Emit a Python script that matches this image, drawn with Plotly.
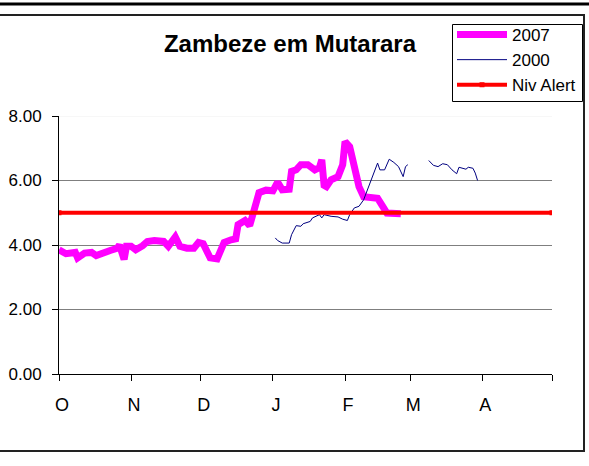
import plotly.graph_objects as go

# ---- data (day index from 1 October) ----
month_ticks = [0, 31, 61, 92, 123, 151, 182, 212]
month_labels = ["O", "N", "D", "J", "F", "M", "A", ""]

days_2007 = [0, 3, 7, 8, 11, 14, 16, 19, 22, 25, 26, 28, 29, 31, 33, 36, 38, 41, 45, 47,
             50, 52, 55, 58, 60, 62, 64, 65, 68, 69, 71, 74, 76, 77, 80, 82, 84, 86, 89, 92,
             94, 96, 99, 100, 102, 104, 107, 110, 112, 113, 114, 115, 117, 120, 122, 123,
             125, 127, 129, 131, 134, 137, 139, 141, 147]
level_2007 = [3.85, 3.73, 3.77, 3.60, 3.75, 3.77, 3.67, 3.77, 3.83, 3.90, 4.00, 3.55, 3.96,
              3.96, 3.85, 3.98, 4.11, 4.14, 4.11, 3.96, 4.25, 3.96, 3.90, 3.90, 4.08, 4.04,
              3.80, 3.60, 3.57, 3.80, 4.08, 4.16, 4.19, 4.63, 4.76, 4.60, 5.18, 5.62, 5.70,
              5.68, 5.95, 5.71, 5.73, 6.28, 6.33, 6.49, 6.49, 6.33, 6.40, 6.64, 5.85, 5.81,
              6.02, 6.12, 6.49, 7.21, 7.05, 6.43, 5.81, 5.50, 5.49, 5.45, 5.22, 4.99, 4.97]

days_2000 = [93, 94, 96, 99, 100, 102, 104, 105, 108, 109, 112, 113, 114, 117, 120, 122,
             124, 125, 127, 129, 131, 133, 135, 137, 138, 140, 142, 144, 146, 148, 149, 150,
             154,
             159, 161, 163, 165, 167, 169, 171, 172, 175, 176, 178, 179, 180]
level_2000 = [4.22, 4.14, 4.06, 4.06, 4.32, 4.60, 4.58, 4.66, 4.73, 4.84, 4.94, 4.84, 4.94,
              4.89, 4.87, 4.80, 4.76, 4.94, 5.15, 5.20, 5.40, 5.76, 6.12, 6.54, 6.33, 6.33,
              6.66, 6.56, 6.43, 6.12, 6.43, 6.49,
              None,
              6.62, 6.47, 6.43, 6.52, 6.49, 6.33, 6.21, 6.41, 6.35, 6.41, 6.38, 6.23, 6.00]

alert_days = [0, 212]
alert_level = [5.0, 5.0]

y_ticks = [0, 2, 4, 6, 8]

# ---- figure ----
W, H = 589, 466
L, R, T, B = 59, 37, 116, 92
pw, ph = W - L - R, H - T - B


def px(x):
    return (x - L) / pw


def py(y):
    return (H - B - y) / ph


FONT = "Arial, Liberation Sans, sans-serif"

fig = go.Figure()
fig.add_trace(go.Scatter(x=days_2007, y=level_2007, mode="lines", name="2007",
                         line=dict(color="#FF00FF", width=7)))
fig.add_trace(go.Scatter(x=days_2000, y=level_2000, mode="lines", name="2000",
                         connectgaps=False, line=dict(color="#000080", width=1)))
fig.add_trace(go.Scatter(x=alert_days, y=alert_level, mode="lines+markers", name="Niv Alert",
                         line=dict(color="#FF0000", width=4),
                         marker=dict(symbol="square", size=5, color="#FF0000")))

fig.update_layout(
    width=W, height=H,
    margin=dict(l=L, r=R, t=T, b=B, autoexpand=False),
    paper_bgcolor="white", plot_bgcolor="white",
    font=dict(family=FONT, color="black"),
    showlegend=True,
    title=dict(text="<b>Zambeze em Mutarara</b>", xref="container", yref="container",
               x=290 / W, y=1 - 44 / H, xanchor="center", yanchor="middle",
               font=dict(size=24, family=FONT, color="black")),
    legend=dict(x=px(452), y=py(17), xanchor="left", yanchor="top",
                bgcolor="rgba(0,0,0,0)", borderwidth=0,
                font=dict(size=17, family=FONT, color="black"),
                itemwidth=50, entrywidth=125,
                traceorder="normal"),
    xaxis=dict(range=[0, 212], tickmode="array", tickvals=month_ticks, ticktext=month_labels,
               showgrid=False, zeroline=False, showline=True, linecolor="black", linewidth=1,
               ticks="outside", ticklen=6, tickcolor="black",
               tickfont=dict(size=18, family=FONT, color="black"),
               ticklabelshift=3, ticklabelstandoff=8),
    yaxis=dict(range=[0, 8], tickmode="array", tickvals=y_ticks, tickformat=".2f",
               showgrid=True, gridcolor="#7f7f7f", gridwidth=1, zeroline=False,
               showline=True, linecolor="black", linewidth=1,
               ticks="outside", ticklen=6, tickcolor="black",
               tickfont=dict(size=17, family=FONT, color="black"),
               ticklabelstandoff=7),
    shapes=[
        dict(type="line", xref="paper", yref="y", x0=0, x1=1, y0=8, y1=8,
             line=dict(color="#efefef", width=1), layer="between"),
        dict(type="rect", xref="paper", yref="paper", x0=px(-1), x1=px(584), y0=py(451), y1=py(15),
             line=dict(color="#222222", width=2), fillcolor="rgba(0,0,0,0)", layer="above"),
        dict(type="line", xref="paper", yref="paper", x0=px(0), x1=px(589), y0=py(4), y1=py(4),
             line=dict(color="black", width=3), layer="above"),
        dict(type="rect", xref="paper", yref="paper", x0=px(452.5), x1=px(582.5),
             y0=py(101.5), y1=py(24.5),
             line=dict(color="black", width=1), fillcolor="rgba(0,0,0,0)", layer="above"),
    ],
)

fig.write_html("out.html", config={"displayModeBar": False},
               post_script="document.body.style.margin='0';document.body.style.padding='0';")
